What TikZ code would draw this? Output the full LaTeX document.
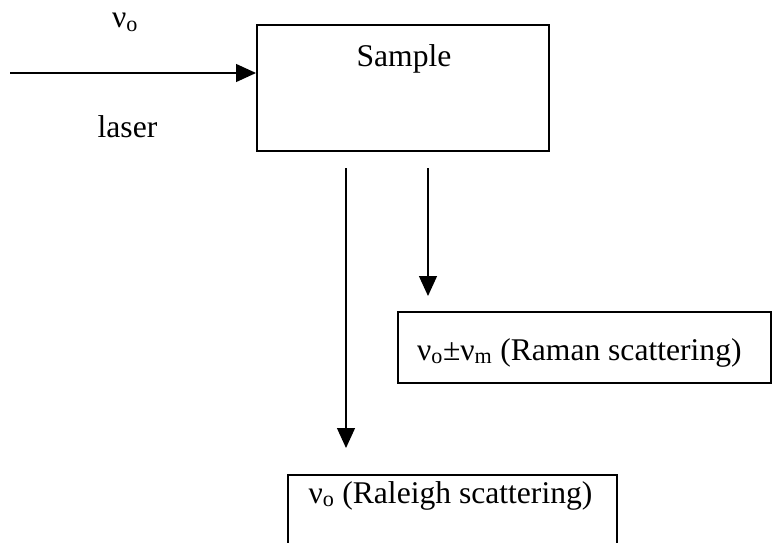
\documentclass[tikz,border=0pt]{standalone}
\usepackage{fontspec}
\setmainfont{Liberation Serif}
\usetikzlibrary{arrows.meta}
\tikzset{
  boxstyle/.style={draw=black, line width=2pt, inner sep=0pt},
  txt/.style={inner sep=0pt, font=\fontsize{31.6}{37}\selectfont},
  arr/.style={line width=1.3pt, -{Triangle[length=20pt,width=18pt]}}
}
\begin{document}
\begin{tikzpicture}[x=1pt,y=-1pt]
\useasboundingbox (0,0) rectangle (772,543);
\clip (0,0) rectangle (772,543);
% sample box
\node[boxstyle, minimum width=292pt, minimum height=126pt] (sample) at (403,88) {};
\node[txt, anchor=base] (sampletxt) at (404,67) {Sample};
% laser
\coordinate (laserstart) at (10,73);
\draw[arr] (laserstart) -- (sample.west |- laserstart);
\node[txt, anchor=base] (nu0) at (125,28) {ν\textsubscript{o}};
\node[txt, anchor=base] (laser) at (127.5,137) {laser};
% Raman box
\node[boxstyle, minimum width=373pt, minimum height=71pt] (raman) at (584.5,347.5) {};
\node[txt, anchor=base west] (ramantxt) at (417,360) {ν\textsubscript{o}±ν\textsubscript{m} (Raman scattering)};
% Raleigh box
\node[boxstyle, minimum width=329pt, minimum height=100pt] (raleigh) at (452.5,525) {};
\node[txt, anchor=base] (raleightxt) at (450.5,503) {ν\textsubscript{o} (Raleigh scattering)};
% arrows
\coordinate (a1) at (346,168);
\coordinate (a1e) at (346,448);
\coordinate (a2) at (428,168);
\coordinate (a2e) at (428,296);
\draw[arr] (a1) -- (a1e);
\draw[arr] (a2) -- (a2e);
\end{tikzpicture}
\end{document}
